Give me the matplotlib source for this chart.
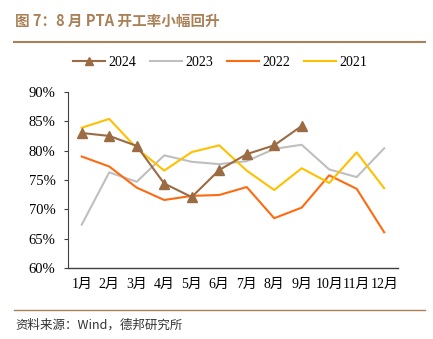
import numpy as np
import matplotlib
matplotlib.use('Agg')
import matplotlib.pyplot as plt
from matplotlib.lines import Line2D

plt.rcParams['font.family'] = ['Liberation Serif', 'Noto Sans CJK SC']

## data
months = ['1月', '2月', '3月', '4月', '5月', '6月', '7月', '8月', '9月', '10月', '11月', '12月']
y2024 = [83.0, 82.5, 80.8, 74.4, 72.1, 76.7, 79.4, 80.9, 84.2]
y2023 = [67.4, 76.3, 74.7, 79.2, 78.1, 77.7, 78.2, 80.3, 81.0, 76.8, 75.5, 80.4]
y2022 = [79.0, 77.3, 73.7, 71.6, 72.3, 72.45, 73.8, 68.5, 70.3, 75.8, 73.5, 66.1]
y2021 = [83.9, 85.4, 80.4, 76.6, 79.75, 80.9, 76.6, 73.3, 77.0, 74.5, 79.7, 73.6]
y_ticks = [60, 65, 70, 75, 80, 85, 90]

c2024 = '#9B6B43'
c2023 = '#BFBFBF'
c2022 = '#FF6A10'
c2021 = '#FFC000'
brown = '#A98158'

fig = plt.figure(figsize=(4.33, 3.39), dpi=100)
ax = fig.add_axes([0.157, 0.209, 0.762, 0.520])

x = np.arange(len(months))
ax.plot(x[:len(y2024)], y2024, color=c2024, lw=1.5, marker='^', ms=7.5, zorder=5)
ax.plot(x, y2023, color=c2023, lw=1.5, zorder=2)
ax.plot(x, y2022, color=c2022, lw=1.5, zorder=3)
ax.plot(x, y2021, color=c2021, lw=1.5, zorder=4)

ax.set_xlim(-0.5, 11.5)
ax.set_ylim(60, 90)
ax.set_yticks(y_ticks)
ax.set_yticklabels(['%d%%' % v for v in y_ticks], fontsize=10.5)
ax.set_xticks(x)
ax.set_xticklabels(months, fontsize=10)
ax.tick_params(axis='x', length=0, pad=7)
ax.tick_params(axis='y', length=3, width=0.8, pad=6, color='#404040')

for s in ['top', 'right']:
    ax.spines[s].set_visible(False)
ax.spines['left'].set_color('#404040')
ax.spines['bottom'].set_color('#404040')
ax.spines['left'].set_linewidth(0.8)
ax.spines['bottom'].set_linewidth(1.0)

handles = [
    Line2D([], [], color=c2024, lw=1.5, marker='^', ms=6),
    Line2D([], [], color=c2023, lw=1.5),
    Line2D([], [], color=c2022, lw=1.5),
    Line2D([], [], color=c2021, lw=1.5),
]
fig.legend(handles, ['2024', '2023', '2022', '2021'], loc='center',
           bbox_to_anchor=(0.508, 0.815), ncol=4, frameon=False, fontsize=10,
           handlelength=2.3, columnspacing=1.0, handletextpad=0.25)

# title and source
fig.text(0.035, 0.938, '图 7：8 月 PTA 开工率小幅回升', fontsize=10.5, fontweight='bold',
         color=brown, family=['Noto Sans CJK SC'], va='center')
fig.add_artist(Line2D([0.032, 0.982], [0.876, 0.876], color=brown, lw=1.5))
fig.add_artist(Line2D([0.032, 0.982], [0.085, 0.085], color=brown, lw=1.0))
fig.text(0.035, 0.042, '资料来源：Wind，德邦研究所', fontsize=9, color='#333333',
         family=['Noto Sans CJK SC'], va='center')

plt.savefig('out.png', dpi=100)
